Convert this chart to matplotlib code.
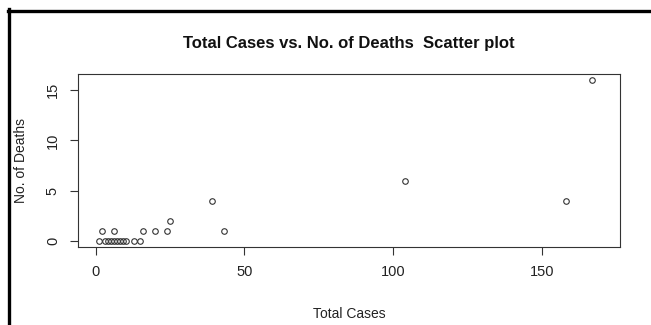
import matplotlib
matplotlib.use('Agg')
import matplotlib.pyplot as plt
from matplotlib.lines import Line2D

plt.rcParams['font.family'] = ['Liberation Sans', 'DejaVu Sans']

# data
total_cases = [1, 3, 4, 5, 6, 7, 8, 9, 10, 13, 15,
               2, 6, 16, 20, 24, 43,
               25,
               39, 158,
               104,
               167]
deaths = [0, 0, 0, 0, 0, 0, 0, 0, 0, 0, 0,
          1, 1, 1, 1, 1, 1,
          2,
          4, 4,
          6,
          16]
x_ticks = [0, 50, 100, 150]
y_ticks = [0, 5, 10, 15]

ink = '#333333'

fig = plt.figure(figsize=(6.51, 3.25), dpi=100)
ax = fig.add_axes([0.1198, 0.241, 0.8326, 0.5313])

ax.plot(total_cases, deaths, linestyle='none', marker='o', markersize=4,
        markerfacecolor='none', markeredgecolor=ink, markeredgewidth=0.8)

ax.set_xlim(-6, 176.3)
ax.set_ylim(-0.57, 16.6)

for s in ax.spines.values():
    s.set_color(ink)
    s.set_linewidth(0.8)

ax.set_xticks(x_ticks)
ax.set_yticks(y_ticks)
ax.tick_params(direction='out', length=6, width=0.8, color=ink,
               labelsize=10.5, labelcolor='#222222', pad=7)
plt.setp(ax.get_yticklabels(), rotation=90, va='center')

ax.set_xlabel('Total Cases', fontsize=10, color='#222222', labelpad=20)
ax.set_ylabel('No. of Deaths', fontsize=10, color='#222222', labelpad=13)
ax.set_title('Total Cases vs. No. of Deaths  Scatter plot', fontsize=12,
             fontweight='bold', color='#111111', pad=19)

# black frame from the page the chart was cut from
fig.add_artist(Line2D([9 / 651, 9 / 651], [0, 1 - 9 / 325], color='black',
                      linewidth=2.4, transform=fig.transFigure))
fig.add_artist(Line2D([7.5 / 651, 1], [1 - 10.5 / 325, 1 - 10.5 / 325],
                      color='black', linewidth=2.4, transform=fig.transFigure))

fig.savefig('out.png', dpi=100)
